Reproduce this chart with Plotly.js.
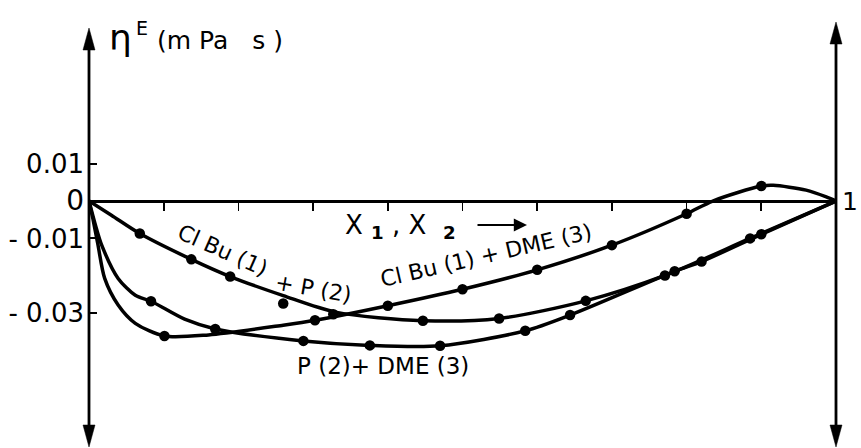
<!DOCTYPE html>
<html>
<head>
<meta charset="utf-8">
<script src="https://cdn.plot.ly/plotly-3.0.1.min.js"></script>
<style>
  html, body { margin: 0; padding: 0; background: #fff; }
  #chart { width: 861px; height: 448px; }
</style>
</head>
<body>
<div id="chart"></div>
<script>
// Excess viscosity eta^E (mPa s) of three binary mixtures vs. mole fraction x1, x2.

// ClBu (1) + P (2): fitted curve and measured points
const clbuPCurveX = [0, 0.03, 0.068, 0.137, 0.189, 0.26, 0.33, 0.447, 0.549, 0.665, 0.771, 0.885, 1];
const clbuPCurveY = [0, -0.0038, -0.0087, -0.0156, -0.0202, -0.0253, -0.0297, -0.0320, -0.0314, -0.0267, -0.0199, -0.0100, 0];
const clbuPX = [0.068, 0.137, 0.189, 0.26, 0.327, 0.447, 0.549, 0.665, 0.771, 0.885];
const clbuPY = [-0.0087, -0.0156, -0.0202, -0.0274, -0.0303, -0.0320, -0.0314, -0.0267, -0.0199, -0.0100];

// P (2) + DME (3)
const pDmeCurveX = [0, 0.008, 0.017, 0.039, 0.062, 0.083, 0.128, 0.169, 0.287, 0.376, 0.47, 0.584, 0.644, 0.784, 0.82, 0.9, 1];
const pDmeCurveY = [0, -0.0060, -0.0118, -0.0207, -0.0252, -0.0268, -0.0316, -0.0342, -0.0374, -0.0386, -0.0387, -0.0347, -0.0305, -0.0188, -0.0162, -0.0089, 0];
const pDmeX = [0.083, 0.169, 0.287, 0.376, 0.470, 0.584, 0.644, 0.784, 0.820, 0.900];
const pDmeY = [-0.0268, -0.0342, -0.0374, -0.0386, -0.0387, -0.0347, -0.0305, -0.0188, -0.0162, -0.0089];

// ClBu (1) + DME (3)
const clbuDmeCurveX = [0, 0.006, 0.012, 0.021, 0.039, 0.062, 0.101, 0.16, 0.26, 0.3025, 0.40, 0.50, 0.60, 0.70, 0.80, 0.835, 0.90, 0.916, 0.96, 0.987, 1];
const clbuDmeCurveY = [0, -0.0055, -0.0117, -0.0207, -0.0278, -0.0327, -0.0361, -0.0358, -0.0332, -0.0319, -0.0280, -0.0236, -0.0184, -0.0118, -0.0034, 0, 0.0040, 0.0042, 0.0029, 0.0011, 0];
const clbuDmeX = [0.101, 0.3025, 0.40, 0.50, 0.60, 0.70, 0.80, 0.90];
const clbuDmeY = [-0.0361, -0.0319, -0.0280, -0.0236, -0.0184, -0.0118, -0.0034, 0.0040];

// axis ticks
const xTickVals = [0.1, 0.2, 0.3, 0.4, 0.5, 0.6, 0.7, 0.8, 0.9];
const yTickVals = [0.01, 0, -0.01, -0.03];
const yTickText = ['0.01', '<span style="font-size:28px">0</span>', '- 0.01', '- 0.03'];

const W = 861, H = 448;
const M = { l: 89, r: 25, t: 20, b: 0 };
const PW = W - M.l - M.r, PH = H - M.t - M.b;
const yRange = [-0.06604, 0.0484];
const zeroFrac = (0 - yRange[0]) / (yRange[1] - yRange[0]);
// pixel -> paper helpers for text and arrow placement
const px = (x) => (x - M.l) / PW;
const py = (y) => (H - M.b - y) / PH;

const FONT = 'DejaVu Sans, Verdana, sans-serif';
const INK = '#000';
const NB = '\u00a0';

function curve(x, y) {
  return { x, y, type: 'scatter', mode: 'lines', hoverinfo: 'skip',
    line: { color: INK, width: 3.5, shape: 'spline', smoothing: 0.8 } };
}
function dots(x, y) {
  return { x, y, type: 'scatter', mode: 'markers', hoverinfo: 'skip',
    marker: { color: INK, size: 10.5, line: { width: 0 } } };
}

const traces = [
  curve(clbuPCurveX, clbuPCurveY), dots(clbuPX, clbuPY),
  curve(pDmeCurveX, pDmeCurveY), dots(pDmeX, pDmeY),
  curve(clbuDmeCurveX, clbuDmeCurveY), dots(clbuDmeX, clbuDmeY)
];

// vertical double-headed axis arrow at pixel column xPix, tips at yTop / yBot
function vArrow(xPix, yTop, yBot) {
  const lw = 2.8, hl = 22, hw = 6;
  const xc = px(xPix), xl = px(xPix - hw), xr = px(xPix + hw);
  return [
    { type: 'line', xref: 'paper', yref: 'paper', x0: xc, x1: xc,
      y0: py(yBot - 8), y1: py(yTop + 8), line: { color: INK, width: lw } },
    { type: 'path', xref: 'paper', yref: 'paper',
      path: `M${xc},${py(yTop)} L${xl},${py(yTop + hl)} L${xr},${py(yTop + hl)} Z`,
      fillcolor: INK, line: { color: INK, width: 0.5 } },
    { type: 'path', xref: 'paper', yref: 'paper',
      path: `M${xc},${py(yBot)} L${xl},${py(yBot - hl)} L${xr},${py(yBot - hl)} Z`,
      fillcolor: INK, line: { color: INK, width: 0.5 } }
  ];
}

function label(text, x, y, size, angle, extra) {
  return Object.assign({ text, xref: 'paper', yref: 'paper', x: px(x), y: py(y),
    showarrow: false, textangle: angle || 0, xanchor: 'center', yanchor: 'middle',
    font: { family: FONT, size, color: INK } }, extra || {});
}

const annotations = [
  label('η', 120, 38, 36),
  label('E', 142, 28, 19),
  label('(m' + NB + 'Pa' + NB + NB + NB + 's' + NB + ')', 155, 40, 25, 0, { xanchor: 'left' }),
  label('X' + NB + '<sub><b>1</b></sub>' + NB + ',' + NB + 'X' + NB + NB + '<sub><b>2</b></sub>',
        343, 226, 26, 0, { xanchor: 'left' }),
  { xref: 'paper', yref: 'paper', x: px(527), y: py(225), ax: px(476), ay: py(225),
    axref: 'paper', ayref: 'paper', text: '', showarrow: true,
    arrowhead: 2, arrowsize: 1.2, arrowwidth: 2.2, arrowcolor: INK },
  label('Cl Bu (1)', 223, 250, 22, 24),
  label('+ P (2)', 313, 288, 22, 10),
  label('Cl Bu (1) + DME (3)', 486, 255, 22, -13),
  label('P (2)+ DME (3)', 383, 366, 23, 0),
  { text: '1', xref: 'x', yref: 'y', x: 1, y: 0, xanchor: 'left', yanchor: 'middle',
    xshift: 5, borderpad: 0, showarrow: false, font: { family: FONT, size: 25, color: INK } }
];

const layout = {
  width: W, height: H,
  margin: M,
  paper_bgcolor: '#fff', plot_bgcolor: '#fff',
  showlegend: false,
  font: { family: FONT, color: INK },
  xaxis: {
    range: [0, 1], anchor: 'free', position: zeroFrac,
    showgrid: false, zeroline: false, showline: true, linecolor: INK, linewidth: 2.8,
    tickmode: 'array', tickvals: xTickVals, ticks: 'outside', ticklen: 8, tickwidth: 1.6,
    tickcolor: INK, showticklabels: false, fixedrange: true
  },
  xaxis2: {
    range: [0, 1], overlaying: 'x', anchor: 'free', position: zeroFrac,
    showgrid: false, zeroline: false, showline: false,
    tickmode: 'array', tickvals: xTickVals, ticks: 'inside', ticklen: 7, tickwidth: 1.6,
    tickcolor: INK, showticklabels: false, fixedrange: true
  },
  yaxis: {
    range: yRange, showgrid: false, zeroline: false, showline: false,
    tickmode: 'array', tickvals: yTickVals, ticktext: yTickText,
    ticks: 'inside', ticklen: 8, tickwidth: 2, tickcolor: INK,
    ticklabelstandoff: 4,
    tickfont: { family: FONT, size: 26, color: INK }, fixedrange: true
  },
  shapes: [].concat(vArrow(M.l, 28, 447), vArrow(M.l + PW, 22, 447)),
  annotations
};

Plotly.newPlot('chart', traces, layout, { staticPlot: true, displayModeBar: false });
</script>
</body>
</html>
